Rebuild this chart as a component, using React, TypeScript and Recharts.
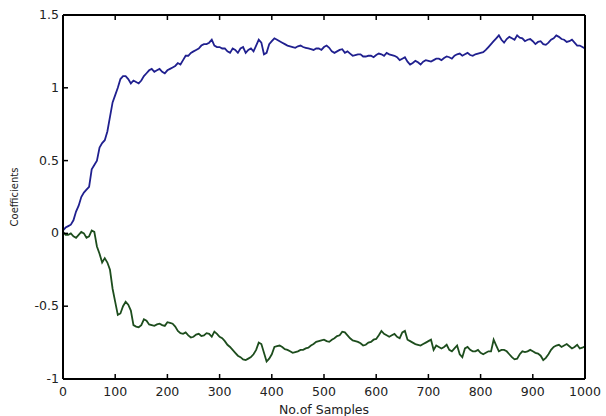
import React from 'react';
import { LineChart, Line, XAxis, YAxis, Label } from 'recharts';

const samples = [
  0, 5, 10, 15, 20, 25, 30, 35, 40, 45, 50, 55, 60, 65, 70, 75, 80, 85, 90, 95,
  100, 105, 110, 115, 120, 125, 130, 135, 140, 145, 150, 155, 160, 165, 170, 175, 180, 185, 190, 195,
  200, 205, 210, 215, 220, 225, 230, 235, 240, 245, 250, 255, 260, 265, 270, 275, 280, 285, 290, 295,
  300, 305, 310, 315, 320, 325, 330, 335, 340, 345, 350, 355, 360, 365, 370, 375, 380, 385, 390, 395,
  400, 405, 410, 415, 420, 425, 430, 435, 440, 445, 450, 455, 460, 465, 470, 475, 480, 485, 490, 495,
  500, 505, 510, 515, 520, 525, 530, 535, 540, 545, 550, 555, 560, 565, 570, 575, 580, 585, 590, 595,
  600, 605, 610, 615, 620, 625, 630, 635, 640, 645, 650, 655, 660, 665, 670, 675, 680, 685, 690, 695,
  700, 705, 710, 715, 720, 725, 730, 735, 740, 745, 750, 755, 760, 765, 770, 775, 780, 785, 790, 795,
  800, 805, 810, 815, 820, 825, 830, 835, 840, 845, 850, 855, 860, 865, 870, 875, 880, 885, 890, 895,
  900, 905, 910, 915, 920, 925, 930, 935, 940, 945, 950, 955, 960, 965, 970, 975, 980, 985, 990, 995,
  1000,
];

const coefA = [
  0.02, 0.04, 0.05, 0.06, 0.09, 0.15, 0.19, 0.25, 0.28, 0.3, 0.32, 0.44, 0.47, 0.5, 0.59, 0.62, 0.64, 0.7, 0.8, 0.9,
  0.95, 1.0, 1.06, 1.08, 1.08, 1.06, 1.03, 1.05, 1.04, 1.03, 1.05, 1.08, 1.1, 1.12, 1.13, 1.11, 1.12, 1.13, 1.11, 1.1,
  1.12, 1.13, 1.14, 1.15, 1.17, 1.16, 1.19, 1.22, 1.22, 1.24, 1.25, 1.26, 1.27, 1.29, 1.3, 1.3, 1.31, 1.33, 1.29, 1.28,
  1.28, 1.27, 1.27, 1.25, 1.24, 1.27, 1.26, 1.24, 1.27, 1.28, 1.24, 1.26, 1.27, 1.25, 1.29, 1.33, 1.31, 1.23, 1.24, 1.3,
  1.32, 1.34, 1.33, 1.32, 1.31, 1.3, 1.29, 1.285, 1.28, 1.275, 1.285, 1.29, 1.28, 1.275, 1.27, 1.265, 1.26, 1.27, 1.27, 1.26,
  1.28, 1.29, 1.275, 1.25, 1.24, 1.25, 1.26, 1.265, 1.24, 1.25, 1.235, 1.22, 1.225, 1.23, 1.23, 1.215, 1.215, 1.22, 1.22, 1.21,
  1.225, 1.235, 1.23, 1.22, 1.24, 1.23, 1.225, 1.22, 1.21, 1.19, 1.2, 1.21, 1.18, 1.16, 1.17, 1.185, 1.175, 1.16, 1.18, 1.19,
  1.185, 1.18, 1.19, 1.2, 1.2, 1.19, 1.205, 1.215, 1.21, 1.2, 1.22, 1.23, 1.235, 1.22, 1.23, 1.24, 1.225, 1.22, 1.23, 1.235,
  1.24, 1.245, 1.26, 1.28, 1.3, 1.32, 1.34, 1.36, 1.33, 1.31, 1.335, 1.35, 1.34, 1.33, 1.36, 1.345, 1.34, 1.32, 1.33, 1.335,
  1.32, 1.3, 1.315, 1.32, 1.3, 1.295, 1.31, 1.33, 1.34, 1.36, 1.35, 1.335, 1.33, 1.315, 1.32, 1.33, 1.31, 1.29, 1.29, 1.28,
  1.27,
];

const coefB = [
  0.01, -0.01, -0.01, 0.0, -0.02, -0.03, -0.01, 0.01, 0.0, -0.03, -0.02, 0.02, 0.01, -0.09, -0.14, -0.2, -0.17, -0.2, -0.25, -0.38,
  -0.47, -0.56, -0.55, -0.5, -0.47, -0.49, -0.53, -0.63, -0.64, -0.645, -0.63, -0.59, -0.6, -0.625, -0.63, -0.635, -0.625, -0.62, -0.63, -0.635,
  -0.61, -0.615, -0.62, -0.64, -0.67, -0.685, -0.69, -0.68, -0.7, -0.715, -0.71, -0.695, -0.69, -0.705, -0.7, -0.685, -0.69, -0.71, -0.675, -0.69,
  -0.71, -0.72, -0.74, -0.765, -0.78, -0.8, -0.82, -0.84, -0.85, -0.865, -0.87, -0.86, -0.85, -0.83, -0.8, -0.75, -0.76, -0.82, -0.88, -0.86,
  -0.83, -0.78, -0.775, -0.77, -0.78, -0.795, -0.8, -0.81, -0.82, -0.815, -0.81, -0.8, -0.8, -0.79, -0.785, -0.77, -0.76, -0.745, -0.74, -0.735,
  -0.73, -0.74, -0.745, -0.73, -0.72, -0.705, -0.7, -0.675, -0.68, -0.7, -0.72, -0.735, -0.74, -0.745, -0.755, -0.77, -0.765, -0.75, -0.745, -0.73,
  -0.725, -0.7, -0.67, -0.69, -0.7, -0.71, -0.7, -0.69, -0.71, -0.72, -0.68, -0.67, -0.73, -0.74, -0.75, -0.76, -0.765, -0.77, -0.76, -0.75,
  -0.74, -0.73, -0.8, -0.77, -0.78, -0.79, -0.78, -0.765, -0.8, -0.81, -0.79, -0.77, -0.83, -0.85, -0.79, -0.78, -0.8, -0.81, -0.81, -0.8,
  -0.82, -0.83, -0.82, -0.81, -0.81, -0.73, -0.77, -0.81, -0.8, -0.8, -0.81, -0.83, -0.85, -0.865, -0.86, -0.83, -0.81, -0.815, -0.81, -0.8,
  -0.81, -0.82, -0.825, -0.84, -0.87, -0.855, -0.83, -0.8, -0.78, -0.77, -0.765, -0.78, -0.77, -0.76, -0.775, -0.79, -0.78, -0.765, -0.79, -0.785,
  -0.775,
];

const xTicks = [0, 100, 200, 300, 400, 500, 600, 700, 800, 900, 1000];
const yTicks = [-1, -0.5, 0, 0.5, 1, 1.5];

const data = samples.map((s, i) => ({ s, a: coefA[i], b: coefB[i] }));

const FONT = 'DejaVu Sans, Arial, sans-serif';
const AXIS = { stroke: '#000', strokeWidth: 2 };

const BottomTick = (p: any) => (
  <g>
    <line x1={p.x} y1={p.y} x2={p.x} y2={p.y - 5} stroke="#000" strokeWidth={1.5} />
    <text x={p.x} y={p.y + 17} textAnchor="middle" fontSize={12.5} fill="#222" fontFamily={FONT}>
      {p.payload.value}
    </text>
  </g>
);
const TopTick = (p: any) => (
  <line x1={p.x} y1={p.y} x2={p.x} y2={p.y + 5} stroke="#000" strokeWidth={1.5} />
);
const LeftTick = (p: any) => (
  <g>
    <line x1={p.x} y1={p.y} x2={p.x + 5} y2={p.y} stroke="#000" strokeWidth={1.5} />
    <text x={p.x - 4} y={p.y + 4} textAnchor="end" fontSize={12.5} fill="#222" fontFamily={FONT}>
      {p.payload.value}
    </text>
  </g>
);
const RightTick = (p: any) => (
  <line x1={p.x} y1={p.y} x2={p.x - 5} y2={p.y} stroke="#000" strokeWidth={1.5} />
);

const YLabel = (p: any) => {
  const vb = p.viewBox || { x: 0, y: 15, width: 63, height: 364 };
  const cx = vb.x + 18;
  const cy = vb.y + vb.height / 2;
  return (
    <text x={cx} y={cy} transform={`rotate(-90 ${cx} ${cy})`} textAnchor="middle" fontSize={10} fill="#222" fontFamily={FONT}>
      Coefficients
    </text>
  );
};
const XLabel = (p: any) => {
  const vb = p.viewBox || { x: 63, y: 379, width: 522, height: 37 };
  const cx = vb.x + vb.width / 2;
  return (
    <text x={cx} y={vb.y + 35} textAnchor="middle" fontSize={12.5} fill="#222" fontFamily={FONT}>
      No.of Samples
    </text>
  );
};

export default function App() {
  return (
    <div style={{ position: 'absolute', left: 0, top: 0, background: '#fff' }}>
      <LineChart width={606} height={416} data={data} margin={{ top: 0, right: 0, bottom: 0, left: 0 }}>
        <XAxis
          xAxisId="bottom"
          dataKey="s"
          type="number"
          domain={[0, 1000]}
          ticks={xTicks}
          height={37}
          tickSize={0}
          tickMargin={0}
          tickLine={false}
          tick={<BottomTick />}
          axisLine={AXIS}
          interval={0}
        >
          <Label content={<XLabel />} />
        </XAxis>
        <XAxis
          xAxisId="top"
          orientation="top"
          dataKey="s"
          type="number"
          domain={[0, 1000]}
          ticks={xTicks}
          height={15}
          tickSize={0}
          tickMargin={0}
          tickLine={false}
          tick={<TopTick />}
          axisLine={AXIS}
          interval={0}
        />
        <YAxis
          yAxisId="left"
          type="number"
          domain={[-1, 1.5]}
          ticks={yTicks}
          width={63}
          tickSize={0}
          tickMargin={0}
          tickLine={false}
          tick={<LeftTick />}
          axisLine={AXIS}
          interval={0}
        >
          <Label content={<YLabel />} />
        </YAxis>
        <YAxis
          yAxisId="right"
          orientation="right"
          type="number"
          domain={[-1, 1.5]}
          ticks={yTicks}
          width={21}
          tickSize={0}
          tickMargin={0}
          tickLine={false}
          tick={<RightTick />}
          axisLine={AXIS}
          interval={0}
        />
        <Line
          xAxisId="bottom"
          yAxisId="left"
          dataKey="a"
          type="linear"
          stroke="#20208f"
          strokeWidth={1.8}
          dot={false}
          isAnimationActive={false}
        />
        <Line
          xAxisId="bottom"
          yAxisId="left"
          dataKey="b"
          type="linear"
          stroke="#1d4d1d"
          strokeWidth={1.8}
          dot={false}
          isAnimationActive={false}
        />
      </LineChart>
    </div>
  );
}
